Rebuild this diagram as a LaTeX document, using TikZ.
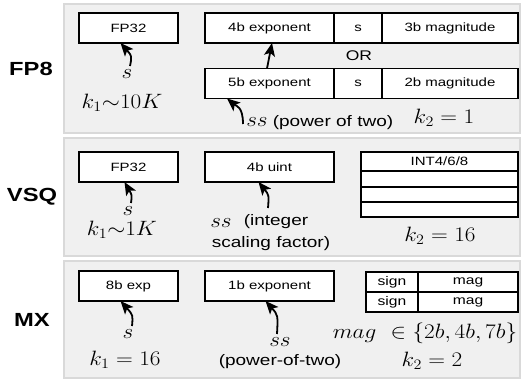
\documentclass[tikz,border=0pt]{standalone}
\usepackage[no-math]{fontspec}
\setmainfont{Liberation Sans}[FakeStretch=1.25]
\usetikzlibrary{arrows.meta, positioning}
\definecolor{pnlfill}{HTML}{F0F0F0}
\definecolor{pnlline}{HTML}{D9D9D9}
\newcommand{\wm}[1]{\scalebox{1.12}[1]{$#1$}}

\begin{document}
\begin{tikzpicture}[
  x=1pt, y=-1pt,
  every node/.style={font=\fontsize{12}{14}\selectfont},
  panel/.style={draw=pnlline, fill=pnlfill, line width=1.6pt},
  cell/.style={rectangle, draw, fill=white, line width=1.8pt, minimum height=30pt, inner sep=0pt, outer sep=0pt},
  fmt/.style={font=\fontsize{19}{21}\selectfont\bfseries},
  mth/.style={font=\fontsize{20}{22}\selectfont},
  note/.style={font=\fontsize{15.2}{17}\selectfont},
  ptr/.style={-{Stealth[length=13pt, width=11pt, inset=3pt]}, line width=1.8pt},
]
\useasboundingbox (0,0) rectangle (522,381);

% Panels
\draw[panel] (64,4) rectangle (520,133);
\draw[panel] (64,138) rectangle (520,256);
\draw[panel] (64,261) rectangle (520,378);

\node[fmt] (fp8) at (31,69) {FP8};
\node[fmt] (vsq) at (32,197) {VSQ};
\node[fmt] (mx) at (32,320) {MX};

% FP8
\node[cell, minimum width=99pt] (fp32a) at (128.5,28) {FP32};
\node[cell, minimum width=129pt, anchor=west] (exp4) at (205,28) {4b exponent};
\node[cell, minimum width=48pt, anchor=west] (sg4) at (exp4.east) {s};
\node[cell, minimum width=136pt, anchor=west] (mag3) at (sg4.east) {3b magnitude};
\node[font=\fontsize{14}{16}\selectfont] (or) at (359,56) {OR};
\node[cell, minimum width=129pt, anchor=west] (exp5) at (205,83.5) {5b exponent};
\node[cell, minimum width=48pt, anchor=west] (sg5) at (exp5.east) {s};
\node[cell, minimum width=136pt, anchor=west] (mag2) at (sg5.east) {2b magnitude};

\node[mth] (s1) at (127,74) {\wm{s}};
\node[mth] (k1a) at (122,103) {\wm{k_1{\sim}10K}};
\node[mth] (ss1) at (257,122) {\wm{ss}};
\node[note] (pw1) at (333,123) {(power of two)};
\node[mth] (k2a) at (444,118) {\wm{k_2=1}};
\coordinate (hk) at (243,124);

\draw[ptr] ([xshift=3pt]s1.north) .. controls (132,56) .. ([xshift=-8pt]fp32a.south);
\draw[ptr] ([xshift=62pt]exp5.north west) -- ([xshift=67pt]exp4.south west);
\draw[ptr] (hk) .. controls (243,106) and (236,106) .. ([xshift=22pt]exp5.south west);

% VSQ
\node[cell, minimum width=99pt] (fp32b) at (128.5,167) {FP32};
\node[cell, minimum width=129pt] (uint) at (269.5,167) {4b uint};
\node[cell, minimum width=157pt, minimum height=19pt, anchor=north] (int1) at (439.5,152) {INT4/6/8};
\node[cell, minimum width=157pt, minimum height=16pt, anchor=north] (int2) at (int1.south) {};
\node[cell, minimum width=157pt, minimum height=15pt, anchor=north] (int3) at (int2.south) {};
\node[cell, minimum width=157pt, minimum height=15pt, anchor=north] (int4) at (int3.south) {};

\node[mth] (s2) at (128,211) {\wm{s}};
\node[mth] (k1b) at (122,230) {\wm{k_1{\sim}1K}};
\node[mth] (ss2) at (221,223) {\wm{ss}};
\node[note] (ig) at (276,222) {(integer};
\node[note] (sf) at (271,244) {scaling factor)};
\node[mth] (k2b) at (440,236) {\wm{k_2=16}};

\draw[ptr] ([xshift=3pt]s2.north) .. controls (132,195) .. ([xshift=-4pt]fp32b.south);
\draw[ptr] (268,208) .. controls (269,195) .. ([xshift=-11pt]uint.south);

% MX
\node[cell, minimum width=99pt] (exp8) at (128.5,286) {8b exp};
\node[cell, minimum width=129pt] (exp1) at (269.5,286) {1b exponent};
\node[cell, minimum width=52pt, minimum height=20pt, anchor=north west, font=\fontsize{12.5}{14}\selectfont] (sgnA) at (366,272) {sign};
\node[cell, minimum width=100pt, minimum height=20pt, anchor=west, font=\fontsize{12.5}{14}\selectfont] (magA) at (sgnA.east) {mag};
\node[cell, minimum width=52pt, minimum height=20pt, anchor=north, font=\fontsize{12.5}{14}\selectfont] (sgnB) at (sgnA.south) {sign};
\node[cell, minimum width=100pt, minimum height=20pt, anchor=west, font=\fontsize{12.5}{14}\selectfont] (magB) at (sgnB.east) {mag};

\node[mth] (s3) at (128,334) {\wm{s}};
\node[mth] (k1c) at (125,360) {\wm{k_1=16}};
\node[mth] (ss3) at (280,342) {\wm{ss}};
\node[note] (pw3) at (280,362) {(power-of-two)};
\node[mth] (mg) at (425,333) {\wm{mag\ \in\{2b,4b,7b\}}};
\node[mth] (k2c) at (432,361) {\wm{k_2=2}};

\draw[ptr] ([xshift=4pt]s3.north) .. controls (133,315) .. ([xshift=-8pt]exp8.south);
\draw[ptr] ([xshift=-3pt]ss3.north) .. controls (278,315) .. ([xshift=-4pt]exp1.south);
\end{tikzpicture}
\end{document}
